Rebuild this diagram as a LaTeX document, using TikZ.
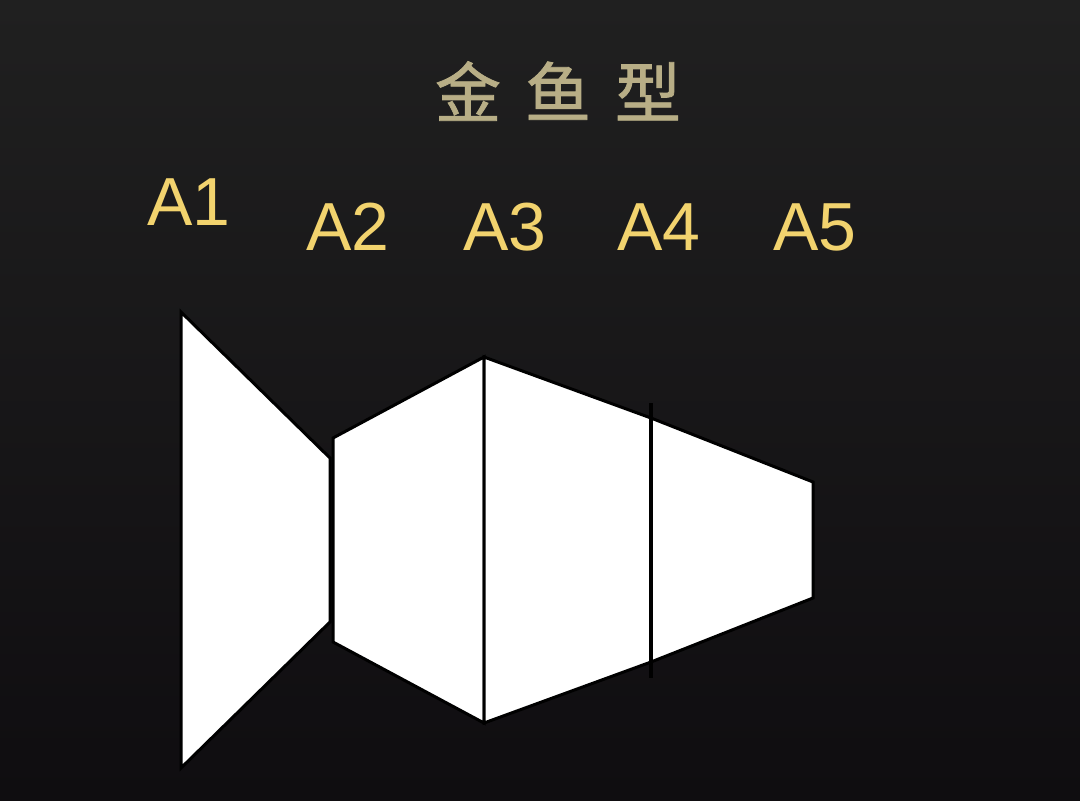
\documentclass[tikz,border=0pt]{standalone}
\usepackage{fontspec}
\setmainfont{Liberation Sans}
\newfontfamily\cjk[FakeBold=1.2]{Noto Sans CJK SC}
\definecolor{bgtop}{HTML}{202020}
\definecolor{bgbot}{HTML}{0F0D10}
\definecolor{titlecol}{HTML}{B8AE86}
\definecolor{labcol}{HTML}{F2D36E}
\tikzset{
  titletext/.style={text=titlecol, font=\cjk\fontsize{66}{72}\selectfont, inner sep=0pt, anchor=center},
  labeltext/.style={text=labcol, font=\fontsize{68}{76}\selectfont, inner sep=0pt, anchor=center},
  piece/.style={fill=white, draw=black, line width=3pt, line join=miter},
  divider/.style={draw=black, line width=4pt}
}
\begin{document}
\begin{tikzpicture}[x=1pt,y=-1pt]
\shade[top color=bgtop, bottom color=bgbot] (0,0) rectangle (1080,801);
\useasboundingbox (0,0) rectangle (1080,801);
\node[titletext] (title) at (558,91) {金\hspace{24pt}鱼\hspace{24pt}型};
\node[labeltext] (a1) at (189,202) {A1};
\node[labeltext] (a2) at (348,227) {A2};
\node[labeltext] (a3) at (505,227) {A3};
\node[labeltext] (a4) at (659,227) {A4};
\node[labeltext] (a5) at (815,227) {A5};
% fish pieces
\draw[piece] (181,312) -- (330,458) -- (330,622) -- (181,768) -- cycle;
\draw[piece] (333,438) -- (484,357) -- (484,723) -- (333,642) -- cycle;
\draw[piece] (484,357) -- (651,418) -- (651,662) -- (484,723) -- cycle;
\draw[piece] (651,418) -- (813,482) -- (813,598) -- (651,662) -- cycle;
\coordinate (d1t) at (651,403);
\coordinate (d1b) at (651,678);
\draw[divider] (d1t) -- (d1b);
\end{tikzpicture}
\end{document}
